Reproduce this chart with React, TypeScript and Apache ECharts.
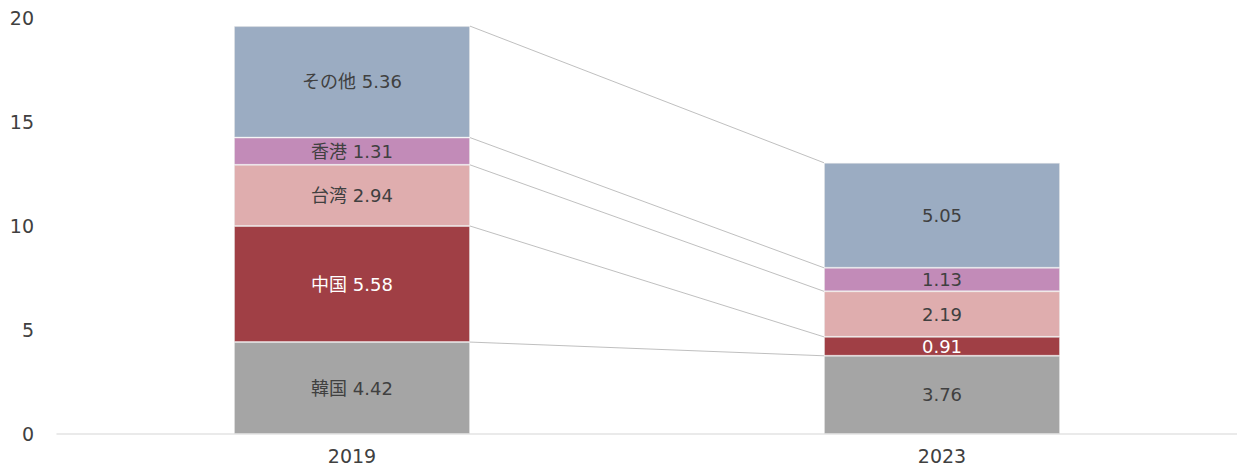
import React, { useEffect, useRef } from "react";
import * as echarts from "echarts";

const years = ["2019", "2023"];
const seriesNames = ["韓国", "中国", "台湾", "香港", "その他"];
const korea = [4.42, 3.76];
const china = [5.58, 0.91];
const taiwan = [2.94, 2.19];
const hongkong = [1.31, 1.13];
const others = [5.36, 5.05];
const colors = ["#A5A5A5", "#A03F45", "#DFADAE", "#C28BB8", "#9BACC2"];
const labelColors = ["#404040", "#FFFFFF", "#404040", "#404040", "#404040"];
const yTicks = [0, 5, 10, 15, 20];

const FONT = "'DejaVu Sans', 'Noto Sans CJK JP', sans-serif";

export default function App() {
  const ref = useRef<HTMLDivElement>(null);

  useEffect(() => {
    if (!ref.current) return;
    const chart = echarts.init(ref.current, null, { renderer: "svg" });
    const values = [korea, china, taiwan, hongkong, others];

    // cumulative tops of each stacked segment, per year
    const tops: number[][] = [];
    values.forEach((arr, i) => {
      tops.push(arr.map((v, j) => (i === 0 ? v : tops[i - 1][j] + v)));
    });
    const connectorData = tops.map((t) => [t[0], t[1]]);

    const barSeries = values.map((arr, i) => ({
      name: seriesNames[i],
      type: "bar",
      stack: "total",
      barWidth: "40%",
      data: arr,
      itemStyle: {
        color: colors[i],
        borderColor: "rgba(230,230,230,0.45)",
        borderWidth: 1,
      },
      label: {
        show: true,
        position: "inside",
        color: labelColors[i],
        fontSize: 18,
        fontFamily: FONT,
        formatter: (p: any) =>
          p.dataIndex === 0
            ? `${p.seriesName} ${Number(p.value).toFixed(2)}`
            : Number(p.value).toFixed(2),
      },
    }));

    chart.setOption({
      animation: false,
      grid: { left: 57, right: 0, top: 18, bottom: 32 },
      xAxis: {
        type: "category",
        data: years,
        axisLine: { show: true, lineStyle: { color: "#E3E3E3", width: 1.5 } },
        axisTick: { show: false },
        axisLabel: {
          color: "#404040",
          fontSize: 19,
          fontFamily: FONT,
          margin: 12,
        },
      },
      yAxis: {
        type: "value",
        min: yTicks[0],
        max: yTicks[yTicks.length - 1],
        interval: 5,
        splitLine: { show: false },
        axisLine: { show: false },
        axisTick: { show: false },
        axisLabel: {
          color: "#404040",
          fontSize: 19,
          fontFamily: FONT,
          margin: 23,
        },
      },
      series: [
        ...barSeries,
        {
          type: "custom",
          name: "connectors",
          silent: true,
          z: 1,
          data: connectorData,
          encode: { x: -1, y: -1 },
          renderItem: (params: any, api: any) => {
            const v0 = api.value(0);
            const v1 = api.value(1);
            const band = api.size([1, 0])[0];
            const half = (band * 0.4) / 2;
            const p0 = api.coord([0, v0]);
            const p1 = api.coord([1, v1]);
            return {
              type: "line",
              shape: { x1: p0[0] + half, y1: p0[1], x2: p1[0] - half, y2: p1[1] },
              style: { stroke: "#AFAFAF", lineWidth: 0.8 },
            };
          },
        },
      ],
    });

    return () => chart.dispose();
  }, []);

  return (
    <div
      ref={ref}
      style={{ position: "fixed", left: 0, top: 0, width: 1237, height: 466, background: "#fff" }}
    />
  );
}
